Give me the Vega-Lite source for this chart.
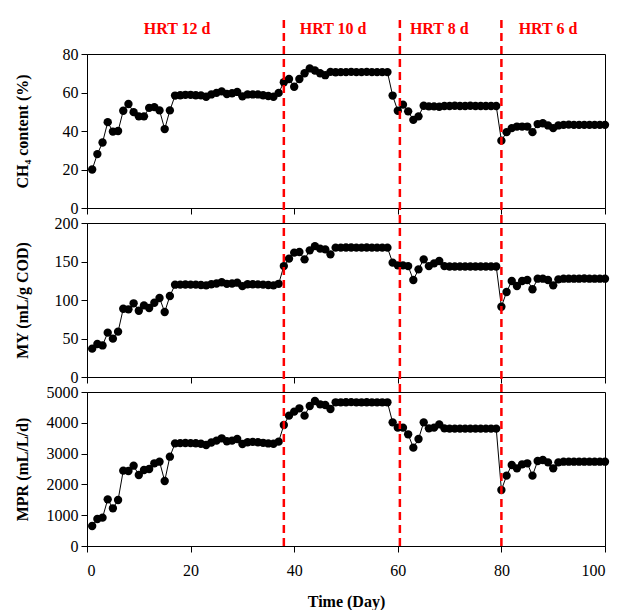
{
  "$schema": "https://vega.github.io/schema/vega-lite/v6.json",
  "padding": {"left": 13, "top": 15, "right": 0, "bottom": 0},
  "bounds": "flush",
  "spacing": 15,
  "config": {
    "view": {"stroke": "black", "strokeWidth": 1},
    "font": "Liberation Serif",
    "axis": {"domainColor": "black", "tickColor": "black", "labelColor": "black", "titleColor": "black", "grid": false, "labelFont": "Liberation Serif", "titleFont": "Liberation Serif", "labelFontSize": 16, "titleFontSize": 16, "titleFontWeight": "bold", "tickSize": 6, "domainWidth": 1, "tickWidth": 1, "labelPadding": 3, "labelOverlap": false, "tickCount": 12}
  },
  "datasets": {
    "d": [
      {"day": 1, "ch4": 20, "my": 36.8, "mpr": 649},
      {"day": 2, "ch4": 28, "my": 42.9, "mpr": 877},
      {"day": 3, "ch4": 34, "my": 41, "mpr": 920},
      {"day": 4, "ch4": 44.6, "my": 57.6, "mpr": 1515},
      {"day": 5, "ch4": 39.7, "my": 49.8, "mpr": 1223},
      {"day": 6, "ch4": 40, "my": 58.9, "mpr": 1494},
      {"day": 7, "ch4": 50.5, "my": 88.7, "mpr": 2446},
      {"day": 8, "ch4": 54, "my": 87.9, "mpr": 2435},
      {"day": 9, "ch4": 49.8, "my": 95.7, "mpr": 2608},
      {"day": 10, "ch4": 47.6, "my": 86.1, "mpr": 2305},
      {"day": 11, "ch4": 47.6, "my": 93, "mpr": 2468},
      {"day": 12, "ch4": 52, "my": 89.6, "mpr": 2500},
      {"day": 13, "ch4": 52.4, "my": 96.5, "mpr": 2684},
      {"day": 14, "ch4": 50.7, "my": 102.6, "mpr": 2738},
      {"day": 15, "ch4": 41, "my": 84.4, "mpr": 2110},
      {"day": 16, "ch4": 50.7, "my": 105.2, "mpr": 2900},
      {"day": 17, "ch4": 58.4, "my": 119.9, "mpr": 3333},
      {"day": 18, "ch4": 58.6, "my": 120, "mpr": 3340},
      {"day": 19, "ch4": 58.8, "my": 120.2, "mpr": 3345},
      {"day": 20, "ch4": 58.8, "my": 120, "mpr": 3340},
      {"day": 21, "ch4": 58.6, "my": 120, "mpr": 3335},
      {"day": 22, "ch4": 58.5, "my": 119.5, "mpr": 3320},
      {"day": 23, "ch4": 57.8, "my": 119, "mpr": 3280},
      {"day": 24, "ch4": 59, "my": 120.5, "mpr": 3360},
      {"day": 25, "ch4": 59.8, "my": 121.5, "mpr": 3420},
      {"day": 26, "ch4": 60.6, "my": 123, "mpr": 3496},
      {"day": 27, "ch4": 59.2, "my": 121, "mpr": 3400},
      {"day": 28, "ch4": 59.6, "my": 121.5, "mpr": 3420},
      {"day": 29, "ch4": 60.3, "my": 122.5, "mpr": 3474},
      {"day": 30, "ch4": 58, "my": 118, "mpr": 3312},
      {"day": 31, "ch4": 59, "my": 120.5, "mpr": 3370},
      {"day": 32, "ch4": 59, "my": 120.5, "mpr": 3380},
      {"day": 33, "ch4": 59, "my": 120.3, "mpr": 3370},
      {"day": 34, "ch4": 58.6, "my": 120, "mpr": 3350},
      {"day": 35, "ch4": 58.2, "my": 119.5, "mpr": 3330},
      {"day": 36, "ch4": 57.8, "my": 119, "mpr": 3320},
      {"day": 37, "ch4": 59.8, "my": 121, "mpr": 3388},
      {"day": 38, "ch4": 65.3, "my": 144, "mpr": 3929},
      {"day": 39, "ch4": 67, "my": 153.7, "mpr": 4232},
      {"day": 40, "ch4": 63, "my": 161.5, "mpr": 4362},
      {"day": 41, "ch4": 67, "my": 162.3, "mpr": 4470},
      {"day": 42, "ch4": 70, "my": 152.8, "mpr": 4232},
      {"day": 43, "ch4": 72.5, "my": 164.5, "mpr": 4546},
      {"day": 44, "ch4": 71.4, "my": 170, "mpr": 4708},
      {"day": 45, "ch4": 70, "my": 166.7, "mpr": 4600},
      {"day": 46, "ch4": 69, "my": 165.8, "mpr": 4578},
      {"day": 47, "ch4": 70.7, "my": 159.3, "mpr": 4448},
      {"day": 48, "ch4": 70.5, "my": 168, "mpr": 4665},
      {"day": 49, "ch4": 70.6, "my": 168, "mpr": 4665},
      {"day": 50, "ch4": 70.6, "my": 168.2, "mpr": 4668},
      {"day": 51, "ch4": 70.7, "my": 168.2, "mpr": 4670},
      {"day": 52, "ch4": 70.6, "my": 168, "mpr": 4665},
      {"day": 53, "ch4": 70.6, "my": 168, "mpr": 4665},
      {"day": 54, "ch4": 70.7, "my": 168.2, "mpr": 4668},
      {"day": 55, "ch4": 70.6, "my": 168, "mpr": 4665},
      {"day": 56, "ch4": 70.6, "my": 168, "mpr": 4665},
      {"day": 57, "ch4": 70.6, "my": 168, "mpr": 4665},
      {"day": 58, "ch4": 70.6, "my": 168, "mpr": 4665},
      {"day": 59, "ch4": 58.4, "my": 148.5, "mpr": 4015},
      {"day": 60, "ch4": 50.5, "my": 145, "mpr": 3842},
      {"day": 61, "ch4": 53.7, "my": 145, "mpr": 3842},
      {"day": 62, "ch4": 50.2, "my": 144, "mpr": 3626},
      {"day": 63, "ch4": 45.8, "my": 126, "mpr": 3193},
      {"day": 64, "ch4": 47.6, "my": 139.8, "mpr": 3474},
      {"day": 65, "ch4": 53.1, "my": 152.8, "mpr": 4015},
      {"day": 66, "ch4": 52.8, "my": 144, "mpr": 3820},
      {"day": 67, "ch4": 52.8, "my": 147.6, "mpr": 3842},
      {"day": 68, "ch4": 52.6, "my": 150.6, "mpr": 3950},
      {"day": 69, "ch4": 53, "my": 144, "mpr": 3820},
      {"day": 70, "ch4": 53, "my": 143.5, "mpr": 3810},
      {"day": 71, "ch4": 53.1, "my": 143.5, "mpr": 3810},
      {"day": 72, "ch4": 53, "my": 143.5, "mpr": 3810},
      {"day": 73, "ch4": 53, "my": 143.5, "mpr": 3810},
      {"day": 74, "ch4": 53.1, "my": 143.5, "mpr": 3810},
      {"day": 75, "ch4": 53, "my": 143.5, "mpr": 3810},
      {"day": 76, "ch4": 53, "my": 143.5, "mpr": 3810},
      {"day": 77, "ch4": 53, "my": 143.5, "mpr": 3810},
      {"day": 78, "ch4": 53, "my": 143.5, "mpr": 3810},
      {"day": 79, "ch4": 53, "my": 143.5, "mpr": 3810},
      {"day": 80, "ch4": 35, "my": 91.3, "mpr": 1818},
      {"day": 81, "ch4": 39.4, "my": 110.4, "mpr": 2284},
      {"day": 82, "ch4": 41.5, "my": 124.7, "mpr": 2630},
      {"day": 83, "ch4": 42.3, "my": 118.2, "mpr": 2522},
      {"day": 84, "ch4": 42.3, "my": 124.7, "mpr": 2652},
      {"day": 85, "ch4": 42.3, "my": 126, "mpr": 2684},
      {"day": 86, "ch4": 39.4, "my": 113.9, "mpr": 2284},
      {"day": 87, "ch4": 43.6, "my": 127.7, "mpr": 2760},
      {"day": 88, "ch4": 44, "my": 127.7, "mpr": 2792},
      {"day": 89, "ch4": 42.9, "my": 126, "mpr": 2716},
      {"day": 90, "ch4": 41.5, "my": 119, "mpr": 2522},
      {"day": 91, "ch4": 42.9, "my": 126.8, "mpr": 2716},
      {"day": 92, "ch4": 43.2, "my": 127.7, "mpr": 2738},
      {"day": 93, "ch4": 43.3, "my": 127.7, "mpr": 2738},
      {"day": 94, "ch4": 43.2, "my": 127.7, "mpr": 2738},
      {"day": 95, "ch4": 43.2, "my": 127.7, "mpr": 2738},
      {"day": 96, "ch4": 43.2, "my": 127.9, "mpr": 2738},
      {"day": 97, "ch4": 43.2, "my": 127.7, "mpr": 2738},
      {"day": 98, "ch4": 43.2, "my": 127.7, "mpr": 2738},
      {"day": 99, "ch4": 43.2, "my": 127.7, "mpr": 2738},
      {"day": 100, "ch4": 43.2, "my": 127.7, "mpr": 2738}
    ],
    "hrt": [{"x": 38}, {"x": 60.4}, {"x": 80}],
    "labels": [
      {"x": 17.4, "label": "HRT 12 d"},
      {"x": 47.5, "label": "HRT 10 d"},
      {"x": 68, "label": "HRT 8 d"},
      {"x": 89, "label": "HRT 6 d"}
    ]
  },
  "vconcat": [
    {
      "width": 518, "height": 154,
      "layer": [
        {"data": {"name": "d"}, "mark": {"type": "line", "color": "black", "strokeWidth": 1},
         "encoding": {
           "x": {"field": "day", "type": "quantitative", "scale": {"domain": [0, 100]}, "axis": {"values": [0, 20, 40, 60, 80, 100], "tickCount": 12, "labels": false, "title": null}},
           "y": {"field": "ch4", "type": "quantitative", "scale": {"domain": [0, 80]}, "axis": {"values": [0, 20, 40, 60, 80], "tickCount": 12, "labelOverlap": false, "title": "CH₄ content (%)", "titleX": -57}}}},
        {"data": {"name": "d"}, "mark": {"type": "point", "shape": "circle", "filled": true, "color": "black", "size": 70, "opacity": 1},
         "encoding": {"x": {"field": "day", "type": "quantitative"}, "y": {"field": "ch4", "type": "quantitative"}}},
        {"data": {"name": "hrt"}, "mark": {"type": "rule", "color": "#ff0000", "strokeWidth": 2.5, "strokeDash": [8, 5]},
         "encoding": {"x": {"field": "x", "type": "quantitative"}, "y": {"datum": -7.8}, "y2": {"datum": 99.2}}},
        {"data": {"name": "labels"}, "mark": {"type": "text", "color": "#ff0000", "font": "Liberation Serif", "fontSize": 16, "fontWeight": "bold", "baseline": "middle"},
         "encoding": {"x": {"field": "x", "type": "quantitative"}, "y": {"datum": 93.1}, "text": {"field": "label"}}}
      ]
    },
    {
      "width": 518, "height": 154,
      "layer": [
        {"data": {"name": "d"}, "mark": {"type": "line", "color": "black", "strokeWidth": 1},
         "encoding": {
           "x": {"field": "day", "type": "quantitative", "scale": {"domain": [0, 100]}, "axis": {"values": [0, 20, 40, 60, 80, 100], "tickCount": 12, "labels": false, "title": null}},
           "y": {"field": "my", "type": "quantitative", "scale": {"domain": [0, 200]}, "axis": {"values": [0, 50, 100, 150, 200], "tickCount": 12, "labelOverlap": false, "title": "MY (mL/g COD)", "titleX": -57}}}},
        {"data": {"name": "d"}, "mark": {"type": "point", "shape": "circle", "filled": true, "color": "black", "size": 70, "opacity": 1},
         "encoding": {"x": {"field": "day", "type": "quantitative"}, "y": {"field": "my", "type": "quantitative"}}},
        {"data": {"name": "hrt"}, "mark": {"type": "rule", "color": "#ff0000", "strokeWidth": 2.5, "strokeDash": [8, 5]},
         "encoding": {"x": {"field": "x", "type": "quantitative"}, "y": {"datum": -19.5}, "y2": {"datum": 200}}}
      ]
    },
    {
      "width": 518, "height": 154,
      "layer": [
        {"data": {"name": "d"}, "mark": {"type": "line", "color": "black", "strokeWidth": 1},
         "encoding": {
           "x": {"field": "day", "type": "quantitative", "scale": {"domain": [0, 100]}, "axis": {"values": [0, 20, 40, 60, 80, 100], "tickCount": 12, "title": "Time (Day)", "labelPadding": 10, "titlePadding": 15}},
           "y": {"field": "mpr", "type": "quantitative", "scale": {"domain": [0, 5000]}, "axis": {"values": [0, 1000, 2000, 3000, 4000, 5000], "tickCount": 12, "labelOverlap": false, "format": "d", "title": "MPR (mL/L/d)", "titleX": -57}}}},
        {"data": {"name": "d"}, "mark": {"type": "point", "shape": "circle", "filled": true, "color": "black", "size": 70, "opacity": 1},
         "encoding": {"x": {"field": "day", "type": "quantitative"}, "y": {"field": "mpr", "type": "quantitative"}}},
        {"data": {"name": "hrt"}, "mark": {"type": "rule", "color": "#ff0000", "strokeWidth": 2.5, "strokeDash": [8, 5]},
         "encoding": {"x": {"field": "x", "type": "quantitative"}, "y": {"datum": 0}, "y2": {"datum": 5000}}}
      ]
    }
  ]
}
